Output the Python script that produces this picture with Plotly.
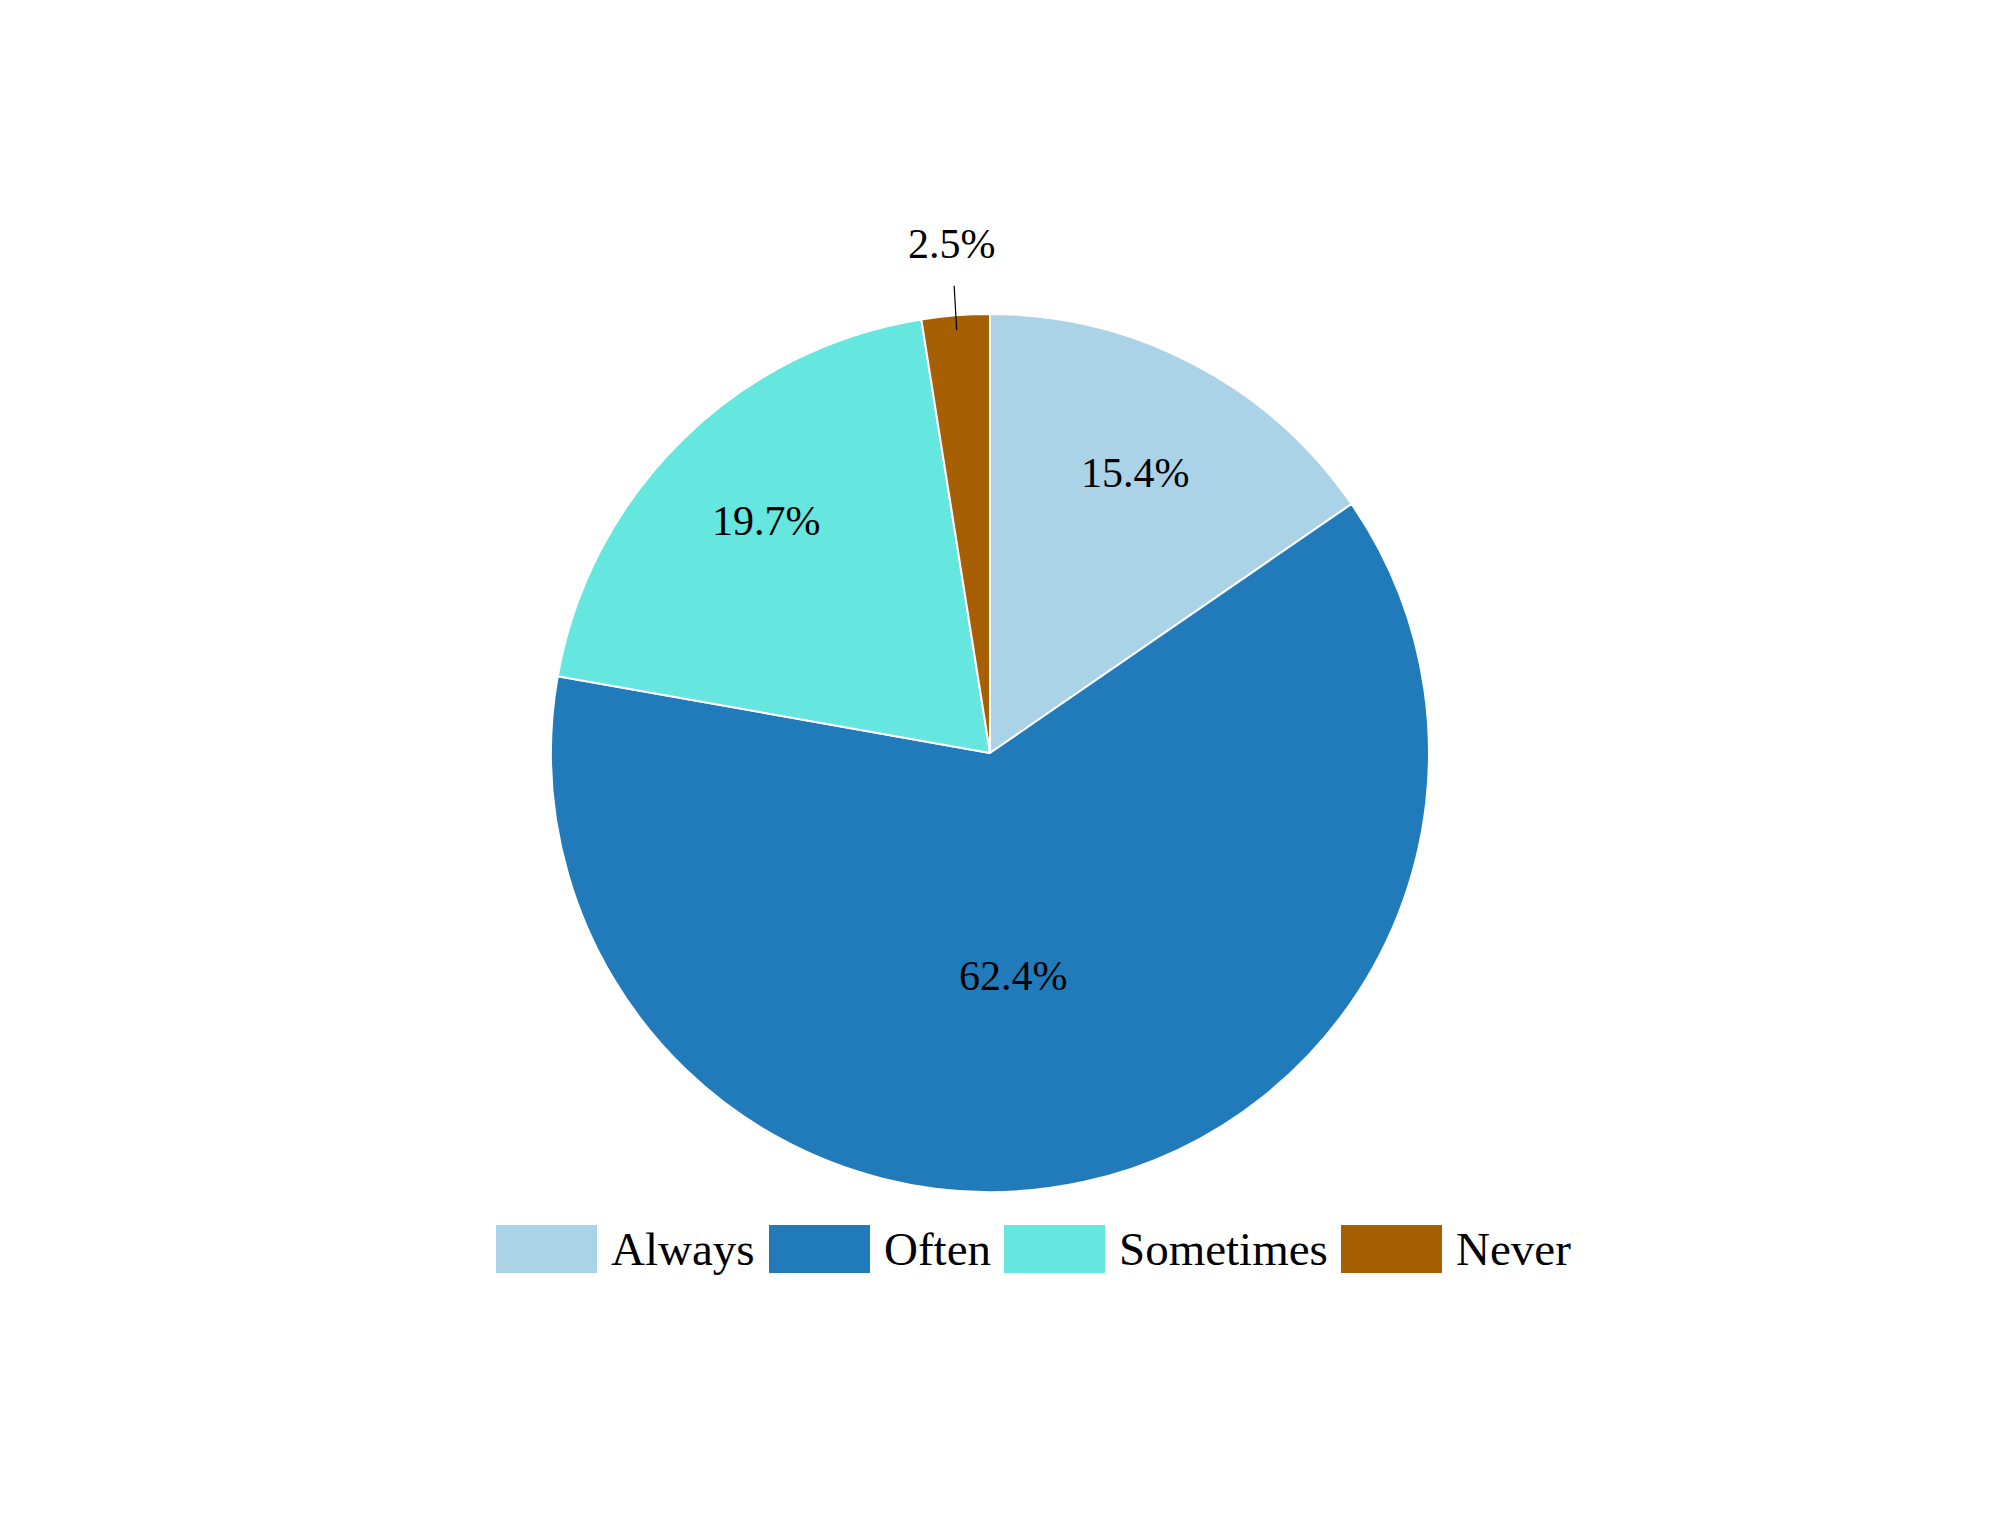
import math
import plotly.graph_objects as go

labels = ["Always", "Often", "Sometimes", "Never"]
values = [15.4, 62.4, 19.7, 2.5]
colors = ["#abd3e8", "#217bba", "#65e6de", "#a65f02"]
text_labels = ["15.4%", "62.4%", "19.7%", "2.5%"]

W, H = 2000, 1531
OFF = 8  # default page body margin
cx, cy, R = 990 - OFF, 753 - OFF, 439  # pie center/radius in pixels

FONT = "Liberation Serif, Times New Roman, serif"

fig = go.Figure(go.Pie(
    labels=labels, values=values, text=text_labels,
    textinfo="none",
    sort=False, direction="clockwise", rotation=0,
    marker=dict(colors=colors, line=dict(color="white", width=2)),
    domain=dict(x=[(cx - R) / W, (cx + R) / W], y=[1 - (cy + R) / H, 1 - (cy - R) / H]),
    showlegend=False, hoverinfo="label+percent",
))

# percentage labels placed at the slice mid-angle (computed from data)
label_r = [0.72, 0.52, 0.74]
label_xshift = [-2, -25, 4]
total = sum(values)
cum = 0.0
for i, v in enumerate(values):
    mid = (cum + v / 2) / total * 2 * math.pi
    cum += v
    if i < 3:
        r = label_r[i] * R
        px = cx + r * math.sin(mid)
        py = cy - r * math.cos(mid)
        fig.add_annotation(x=px / W, y=1 - py / H, xref="paper", yref="paper",
                           text=text_labels[i], showarrow=False,
                           xanchor="center", yanchor="middle", xshift=label_xshift[i],
                           font=dict(family=FONT, size=42, color="black"))
    else:
        r0 = 0.966 * R
        px = cx + r0 * math.sin(mid)
        py = cy - r0 * math.cos(mid)
        fig.add_annotation(
            x=px / W, y=1 - py / H, xref="paper", yref="paper",
            text=text_labels[i], showarrow=True, arrowhead=0, arrowwidth=1.2,
            arrowcolor="black", ax=-5, ay=-86, standoff=0, borderpad=18,
            font=dict(family=FONT, size=42, color="black"),
        )

# custom legend with large swatches
sw_x = [496 - OFF, 769 - OFF, 1004 - OFF, 1341 - OFF]
sw_w, sw_h = 101, 48
leg_y = 1249 - OFF
for i, (lab, col) in enumerate(zip(labels, colors)):
    x0 = sw_x[i]
    fig.add_shape(type="rect", xref="paper", yref="paper",
                  x0=x0 / W, x1=(x0 + sw_w) / W,
                  y0=1 - (leg_y + sw_h / 2) / H, y1=1 - (leg_y - sw_h / 2) / H,
                  fillcolor=col, line=dict(width=0))
    fig.add_annotation(x=(x0 + sw_w + 12) / W, y=1 - leg_y / H, xref="paper", yref="paper",
                       text=lab, showarrow=False, xanchor="left", yanchor="middle",
                       font=dict(family=FONT, size=47, color="black"))

fig.update_layout(
    width=W, height=H,
    margin=dict(l=0, r=0, t=0, b=0),
    paper_bgcolor="white", plot_bgcolor="white",
)

fig.write_html("out.html")
